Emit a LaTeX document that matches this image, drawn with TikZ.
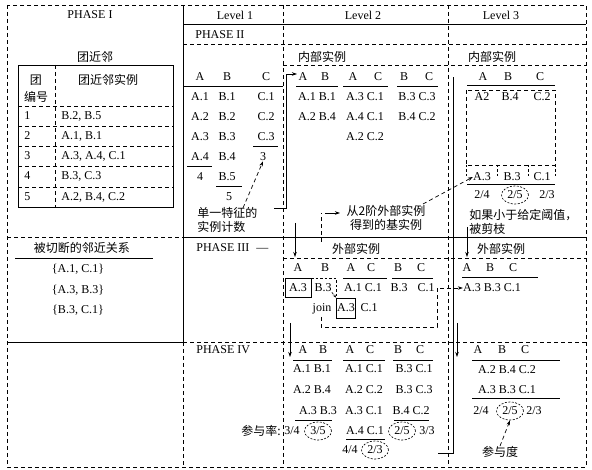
\documentclass[tikz,border=0pt]{standalone}
\usepackage{fontspec}
\setmainfont{Liberation Serif}
\newfontfamily\cjk{Noto Sans CJK SC}
\usetikzlibrary{arrows.meta,shapes.geometric}
\begin{document}
\begin{tikzpicture}[x=1pt,y=-1pt,line width=0.7pt,
  lat/.style={font=\fontsize{12}{13}\selectfont, inner sep=0pt},
  zh/.style={font=\cjk\fontsize{12}{14}\selectfont, inner sep=0pt},
  dsh/.style={dash pattern=on 4pt off 3pt},
  sdsh/.style={dash pattern=on 2.5pt off 2pt},
  arr/.style={-{Stealth[length=5pt,width=3.5pt]}},
  sarr/.style={-{Stealth[length=3.5pt,width=2.5pt]}},
  ring/.style={draw, ellipse, dash pattern=on 2pt off 1.5pt, line width=0.6pt, minimum width=27pt, minimum height=18pt, inner sep=0pt},
  boxed/.style={draw, line width=0.7pt}]
\useasboundingbox (0,0) rectangle (592,470);
\fill[white] (0,0) rectangle (592,470);

% ---------- frame ----------
\draw[dsh] (7,5) rectangle (586,467);
\draw (183,5) -- (183,342);
\draw[dsh] (183,342) -- (183,467);
\draw[dsh] (283,5) -- (283,467);
\draw[dsh] (448,5) -- (448,467);
\draw (183,24) -- (586,24);
\draw[dsh] (183,44) -- (586,44);
\draw[dsh] (283,65) -- (586,65);
\draw[dsh] (7,237) -- (183,237);
\draw (183,237) -- (586,237);
\draw (7,342) -- (183,342);
\draw[dsh] (183,342) -- (586,342);
\draw[dsh] (283,258) -- (586,258);

% ---------- PHASE I ----------
\node[lat] (ph1) at (90,15) {PHASE I};
\node[zh] (tjl) at (95,57) {团近邻};
\draw (18,65) rectangle (173,207);
\draw[dsh] (55,65) -- (55,207);
\foreach \y in {106,126,146,166,187} {\draw[dsh] (18,\y) -- (173,\y);}
\node[zh] (th1) at (36,80) {团};
\node[zh] (th2) at (36,97) {编号};
\node[zh] (th3) at (108,80) {团近邻实例};
\node[lat,anchor=west] (n1) at (24,116) {1};
\node[lat,anchor=west] (n2) at (24,136) {2};
\node[lat,anchor=west] (n3) at (24,156) {3};
\node[lat,anchor=west] (n4) at (24,176) {4};
\node[lat,anchor=west] (n5) at (24,197) {5};
\node[lat,anchor=west] (v1) at (61,116) {B.2, B.5};
\node[lat,anchor=west] (v2) at (61,136) {A.1, B.1};
\node[lat,anchor=west] (v3) at (61,156) {A.3, A.4, C.1};
\node[lat,anchor=west] (v4) at (61,176) {B.3, C.3};
\node[lat,anchor=west] (v5) at (61,197) {A.2, B.4, C.2};

\node[zh] (cut) at (82,248) {被切断的邻近关系};
\draw (15,258) -- (153,258);
\node[lat] (k1) at (78,269) {\{A.1, C.1\}};
\node[lat] (k2) at (78,290) {\{A.3, B.3\}};
\node[lat] (k3) at (78,310) {\{B.3, C.1\}};

% ---------- headers ----------
\node[lat] (lv1) at (235,15) {Level 1};
\node[lat] (lv2) at (363,15) {Level 2};
\node[lat] (lv3) at (501,15) {Level 3};
\node[lat,anchor=west] (ph2) at (195,35) {PHASE II};
\node[lat,anchor=west] (ph3) at (196,248) {PHASE III\hspace{7pt}—};
\node[lat,anchor=west] (ph4) at (196,350) {PHASE IV};

% ---------- Level 1 ----------
\node[lat] (h1a) at (200,77) {A};
\node[lat] (h1b) at (227,77) {B};
\node[lat] (h1c) at (266,77) {C};
\draw (183,86) -- (283,86);
\foreach \i in {1,...,4} {\node[lat] (a\i) at (200,{77+20*\i}) {A.\i};}
\foreach \i in {1,...,5} {\node[lat] (b\i) at (227,{77+20*\i}) {B.\i};}
\foreach \i in {1,...,3} {\node[lat] (c\i) at (266,{77+20*\i}) {C.\i};}
\draw (187,166) -- (212,166);
\node[lat] (cA) at (200,177) {4};
\draw (216,186) -- (242,186);
\node[lat] (cB) at (229,197) {5};
\draw (253,146) -- (278,146);
\node[lat] (cC) at (263,157) {3};
\node[zh,anchor=west,align=left] (lab1) at (197,220) {单一特征的\\实例计数};
\coordinate (s1) at (243,208);
\draw[dsh,arr] (s1) -- (cC.south);
\coordinate (j1) at (274,208);
\coordinate (t1) at (297,74);
\draw[arr] (j1) -- (286,208) -- (286,74) -- (t1);

% ---------- Level 2 internal ----------
\node[zh] (in2) at (322,57) {内部实例};
\node[lat] (h2a) at (303,77) {A};
\node[lat] (h2b) at (325,77) {B};
\node[lat] (h2c) at (353,77) {A};
\node[lat] (h2d) at (378,77) {C};
\node[lat] (h2e) at (404,77) {B};
\node[lat] (h2f) at (429,77) {C};
\draw (296,86) -- (338,86);
\draw (343,86) -- (388,86);
\draw (397,86) -- (438,86);
\node[lat] (p1) at (317,97) {A.1 B.1};
\node[lat] (p2) at (317,117) {A.2 B.4};
\node[lat] (p3) at (365,97) {A.3 C.1};
\node[lat] (p4) at (365,117) {A.4 C.1};
\node[lat] (p5) at (365,137) {A.2 C.2};
\node[lat] (p6) at (417,97) {B.3 C.3};
\node[lat] (p7) at (417,117) {B.4 C.2};
\node[zh,align=center] (lab2) at (386,218) {从2阶外部实例\\得到的基实例};

% ---------- Level 3 internal ----------
\node[zh] (in3) at (492,57) {内部实例};
\node[lat] (h3a) at (483,77) {A};
\node[lat] (h3b) at (508,77) {B};
\node[lat] (h3c) at (540,77) {C};
\draw (467,85) -- (555,85);
\draw[dsh] (466,90) rectangle (555,165);
\node[lat] (w1) at (482,97) {A2};
\node[lat] (w2) at (510,97) {B.4};
\node[lat] (w3) at (542,97) {C.2};
\foreach \x in {466,497,528,555} {\draw[sdsh] (\x,165) -- (\x,177);}
\node[lat] (r3a) at (482,177) {A.3};
\node[lat] (r3b) at (512,177) {B.3};
\node[lat] (r3c) at (542,177) {C.1};
\draw (467,184) -- (555,184);
\node[lat] (u1) at (482,195) {2/4};
\node[lat,ring] (u2) at (515,195) {2/5};
\node[lat] (u3) at (547,195) {2/3};
\node[zh,anchor=west,align=left] (lab3) at (469,222) {如果小于给定阈值，\\被剪枝};
\coordinate (s2) at (423,204);
\draw[dsh,arr] (s2) -- (r3a.west);

% ---------- PHASE III : Level 2 ----------
\coordinate (d1) at (321,242);
\coordinate (d2) at (325,213);
\coordinate (d3) at (340,213);
\draw[dsh] (d1) -- (321,213);
\draw[arr] (d2) -- (d3);
\coordinate (g1) at (295,223);
\coordinate (g2) at (295,257);
\draw[arr] (g1) -- (g2);
\node[zh] (ex2) at (356,249) {外部实例};
\node[lat] (e2a) at (298,268) {A};
\node[lat] (e2b) at (325,268) {B};
\node[lat] (e2c) at (351,268) {A};
\node[lat] (e2d) at (371,268) {C};
\node[lat] (e2e) at (398,268) {B};
\node[lat] (e2f) at (421,268) {C};
\draw (343,278) -- (387,278);
\draw (392,278) -- (433,278);
\node[lat,boxed,minimum width=26pt,minimum height=19pt] (x3a) at (298,288) {A.3};
\node[lat] (x3b) at (323,288) {B.3};
\draw[sdsh] (311,278.5) -- (336,278.5) -- (336,297);
\node[lat] (x3c) at (363,288) {A.1 C.1};
\node[lat] (x3d) at (399,288) {B.3};
\node[lat] (x3e) at (426,288) {C.1};
\node[lat] (jn) at (322,309) {join};
\node[lat,boxed,minimum width=19pt,minimum height=20pt] (x3f) at (346,308) {A.3};
\node[lat] (x3g) at (369,308) {C.1};
\draw[sdsh,sarr] (x3b.south east) -- (x3f.north west);

% ---------- PHASE III : Level 3 ----------
\coordinate (g3) at (467,227);
\coordinate (g4) at (467,257);
\draw[arr] (g3) -- (g4);
\node[zh] (ex3) at (501,249) {外部实例};
\node[lat] (f3a) at (467,268) {A};
\node[lat] (f3b) at (490,268) {B};
\node[lat] (f3c) at (513,268) {C};
\draw (462,277) -- (538,277);
\node[lat] (y3a) at (492,288) {A.3 B.3 C.1};
\coordinate (d4) at (321,317);
\draw[dsh,arr] (d4) -- (321,327) -- (437,327) -- (437,288) -- (y3a.west);

% ---------- PHASE IV : Level 2 ----------
\coordinate (g5) at (290,323);
\coordinate (g6) at (290,357);
\draw[arr] (g5) -- (g6);
\node[lat] (m2a) at (303,350) {A};
\node[lat] (m2b) at (323,350) {B};
\node[lat] (m2c) at (350,350) {A};
\node[lat] (m2d) at (370,350) {C};
\node[lat] (m2e) at (398,350) {B};
\node[lat] (m2f) at (420,350) {C};
\draw (293,360) -- (332,360);
\draw (343,360) -- (385,360);
\draw (393,360) -- (433,360);
\node[lat] (o1) at (312,369) {A.1 B.1};
\node[lat] (o2) at (312,390) {A.2 B.4};
\node[lat] (o3) at (318,411) {A.3 B.3};
\node[lat] (o4) at (364,369) {A.1 C.1};
\node[lat] (o5) at (364,390) {A.2 C.2};
\node[lat] (o6) at (364,411) {A.3 C.1};
\node[lat] (o7) at (365,431) {A.4 C.1};
\node[lat] (o8) at (414,369) {B.3 C.1};
\node[lat] (o9) at (414,390) {B.3 C.3};
\node[lat] (o10) at (411,411) {B.4 C.2};
\draw (295,420) -- (332,420);
\draw (394,420) -- (429,420);
\draw (346,439) -- (385,439);
\node[zh,anchor=east] (cyl) at (281,431) {参与率:};
\node[lat] (q0) at (292,431) {3/4};
\node[lat,ring] (q1) at (318,431) {3/5};
\node[lat,ring] (q2) at (402,431) {2/5};
\node[lat] (q3) at (427,431) {3/3};
\node[lat] (q4) at (350,450) {4/4};
\node[lat,ring] (q5) at (375,450) {2/3};

% ---------- PHASE IV : Level 3 ----------
\coordinate (g7) at (457,323);
\coordinate (g8) at (457,357);
\draw[arr] (g7) -- (g8);
\node[lat] (m3a) at (478,350) {A};
\node[lat] (m3b) at (502,350) {B};
\node[lat] (m3c) at (525,350) {C};
\draw (472,360) -- (560,360);
\node[lat] (z1) at (507,370) {A.2 B.4 C.2};
\node[lat] (z2) at (507,390) {A.3 B.3 C.1};
\draw (472,398) -- (560,398);
\node[lat] (z3) at (481,411) {2/4};
\node[lat,ring] (z4) at (510,411) {2/5};
\node[lat] (z5) at (534,411) {2/3};
\node[zh] (cyd) at (500,452) {参与度};
\draw[dsh,arr] (cyd.north) -- (z4.south);

% ---------- long connector ----------
\coordinate (k0) at (438,453);
\coordinate (k9) at (453,77);
\draw (k0) -- (453,453) -- (k9);
\end{tikzpicture}
\end{document}
